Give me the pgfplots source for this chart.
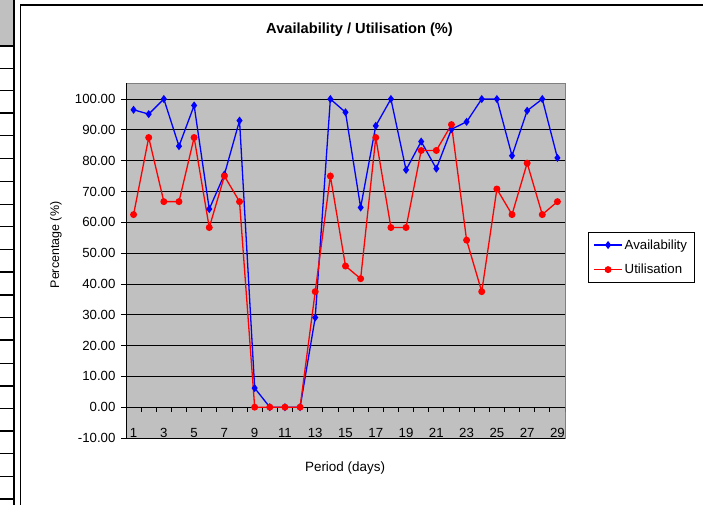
\documentclass[border=0pt]{standalone}
\usepackage{pgfplots}
\pgfplotsset{compat=1.18}
\usepackage{fontspec}
\setmainfont{Liberation Sans}
\definecolor{plotbg}{RGB}{192,192,192}
\definecolor{availblue}{RGB}{0,0,255}
\definecolor{utilred}{RGB}{255,0,0}
\definecolor{hdrgray}{RGB}{192,192,192}
\begin{document}
\begin{tikzpicture}
\useasboundingbox (0,0) rectangle (703bp,505bp);
% spreadsheet fragment on the left
\fill[hdrgray] (0,459bp) rectangle (13bp,505bp);
\draw[black,line width=2bp] (13.5bp,-2bp) -- (13.5bp,507bp);
\foreach \yy in {46,68.3,90.7,113,135.7,158.7,181.7,204.3,226.7,249.3,272,295,317.7,340,363.3,386,408.3,431,453.3,476.7,499}
  {\draw[black,line width=1.5bp] (0,505bp-\yy bp) -- (13.5bp,505bp-\yy bp);}
% chart area border
\draw[black,line width=1.4bp] (20.5bp,-2bp) -- (20.5bp,500bp) -- (706bp,500bp);
\begin{axis}[
  at={(126bp,67bp)}, anchor=south west,
  scale only axis, width=439bp, height=355bp,
  xmin=0.5, xmax=29.5, ymin=-10, ymax=105.2,
  axis background/.style={fill=plotbg, draw=gray},
  separate axis lines,
  axis x line*=bottom, axis y line*=left,
  x axis line style={draw=none},
  y axis line style={black, line width=0.9bp, -},
  xtick={1,3,...,29},
  major x tick style={draw=none},
  xticklabel style={anchor=base, yshift=0.5bp, font=\fontsize{13.3}{15}\selectfont},
  ytick={-10,0,...,100},
  ytick align=outside, major tick length=5bp,
  y tick style={black, line width=0.8bp},
  yticklabel style={font=\fontsize{13.3}{15}\selectfont, xshift=-2bp},
  /pgf/number format/assume math mode=true,
  yticklabel={\pgfmathprintnumber[fixed,fixed zerofill,precision=2]{\tick}},
  ymajorgrids, grid style={black, line width=0.8bp},
  title={Availability / Utilisation (\%)},
  title style={at={(0.532,1.132)}, anchor=center, font=\bfseries\fontsize{14.7}{17}\selectfont},
  xlabel={Period (days)},
  xlabel style={at={(0.499,-0.0845)}, anchor=center, font=\fontsize{13.5}{16}\selectfont},
  ylabel={Percentage (\%)},
  ylabel style={at={(-0.1595,0.5437)}, anchor=center, rotate=0, font=\fontsize{12.5}{15}\selectfont},
  legend style={at={(1.0524,0.580)}, anchor=north west, draw=black, line width=0.8bp,
    font=\fontsize{13.3}{15}\selectfont, row sep=9.5bp, inner xsep=5bp, inner ysep=5bp, fill=white},
  legend cell align=left,
  legend image code/.code={\draw[#1] (0bp,0bp) -- (28bp,0bp); \draw[#1, mark repeat=1] plot coordinates {(14bp,0bp)};},
]
\pgfplotsinvokeforeach{0.5,1.5,...,29.5}{\draw[black,line width=0.8bp] (axis cs:#1,0) -- ([yshift=-5bp]axis cs:#1,0);}
\draw[black,line width=1bp] (axis cs:0.5,0) -- (axis cs:29.5,0);
\addplot[availblue, line width=1.3bp, mark=diamond*, mark size=3bp, mark options={solid, fill=availblue}]
coordinates {
(1,96.5)(2,95.1)(3,100)(4,84.7)(5,97.9)(6,64.3)(7,75.5)(8,93.0)(9,6.2)(10,0)
(11,0)(12,0)(13,29.1)(14,100)(15,95.7)(16,64.8)(17,91.3)(18,100)(19,77.0)(20,86.2)
(21,77.4)(22,90.2)(23,92.6)(24,100)(25,100)(26,81.6)(27,96.2)(28,100)(29,80.9)};
\addlegendentry{Availability}
\addplot[utilred, line width=1.3bp, mark=*, mark size=2.8bp, mark options={solid, fill=utilred}]
coordinates {
(1,62.5)(2,87.5)(3,66.7)(4,66.7)(5,87.5)(6,58.3)(7,75.0)(8,66.7)(9,0)(10,0)
(11,0)(12,0)(13,37.5)(14,75.0)(15,45.8)(16,41.7)(17,87.5)(18,58.3)(19,58.3)(20,83.3)
(21,83.3)(22,91.7)(23,54.2)(24,37.5)(25,70.8)(26,62.5)(27,79.2)(28,62.5)(29,66.7)};
\addlegendentry{Utilisation}
\end{axis}
\end{tikzpicture}
\end{document}
